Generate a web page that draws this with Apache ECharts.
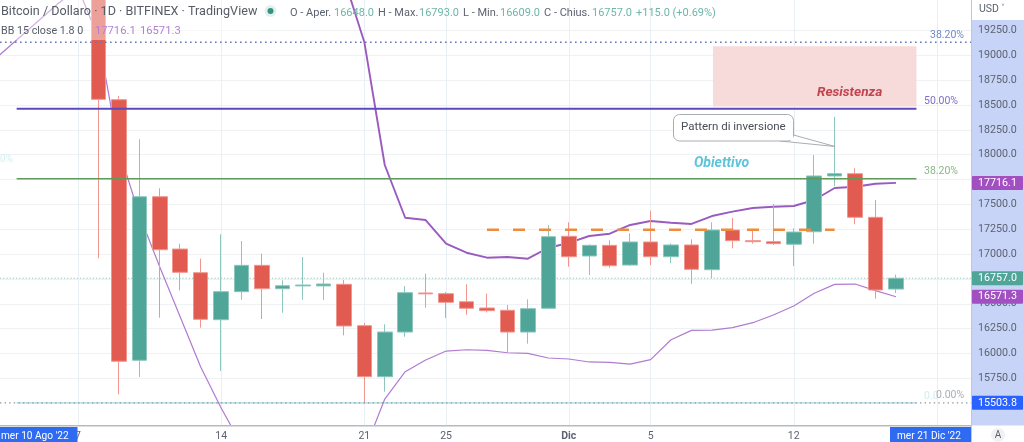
<!DOCTYPE html>
<html><head><meta charset="utf-8">
<style>html,body{margin:0;padding:0;background:#fff}#c{width:1024px;height:442px}</style>
<script src="https://cdn.jsdelivr.net/npm/echarts@6/dist/echarts.min.js"></script>
</head><body><div id="c"></div>
<script>
// x values are day numbers counted from 31 Oct 2022 (Nov 7 = 7, Dec 1 = 31)
const days  =[8,9,10,11,12,13,14,15,16,17,18,19,20,21,22,23,24,25,26,27,28,29,30,31,32,33,34,35,36,37,38,39,40,41,42,43,44,45,46,47];
const opens =[19900,18553,15932,17577,17051,16813,16340,16622,16887,16652,16680,16680,16696,16280,15767,16216,16609,16602,16521,16458,16435,16216,16455,17179,16981,17088,16890,17122,16974,17092,16843,17242,17135,17125,17099,17225,17786,17809,17370,16648];
const closes=[18557,15922,17577,17044,16817,16344,16622,16887,16652,16682,16689,16699,16277,15767,16216,16612,16600,16515,16455,16431,16216,16451,17175,16974,17088,16883,17122,16974,17092,16847,17242,17135,17125,17105,17222,17786,17809,17370,16639,16757];
const lows  =[16958,15590,15764,16360,16636,16260,15824,16541,16347,16410,16541,16538,16183,15499,15616,16169,16461,16357,16390,16414,16008,16099,16455,16873,16790,16863,16880,16890,16907,16702,16757,17058,17105,17092,16880,17105,17685,17300,16551,16609];
const highs =[20000,18590,18155,17662,17105,16954,17199,17132,17004,16736,16971,16813,16739,16307,16294,16679,16803,16619,16696,16602,16488,16545,17293,17320,17098,17139,17209,17437,17108,17149,17320,17363,17242,17504,17260,17997,18382,17863,17544,16793];

const upperDays=[20,21,22,23,24,25,26,27,28,29,30,31,32,33,34,35,36,37,38,39,40,41,42,43,44,45,46,47];
const upperBand=[19778,19134,17896,17366,17343,17105,17014,16964,16971,16954,17064,17112,17182,17205,17293,17333,17316,17303,17383,17427,17464,17477,17484,17544,17665,17678,17708,17716.1];
const lowerDays=[3,4,5,6,7,8,9,10,11,12,13,14,15,16,21,22,23,24,25,26,27,28,29,30,31,32,33,34,35,36,37,38,39,40,41,42,43,44,45,46,47];
const lowerBand=[18973,19154,19335,19516,19677,19174,18047,17393,16870,16367,15864,15452,15080,null,15019,15542,15817,15935,16025,16038,16032,16008,16002,15955,15945,15915,15911,15894,15938,16139,16233,16235,16260,16310,16387,16478,16606,16696,16699,16632,16571.3];

const fibTop=19131, fib50=18463, fib382=17758, fibBottom=15503.8, lastPrice=16757, target=17245;
const zoneY=[19090,18485], zoneX=[38.05,48];
const xTicks=[7,14,21,25,31,35,42,49];
const xLabels=['7','14','21','25','Dic','5','12','19'];
const yTicks=[15750,16000,16250,16500,16750,17000,17250,17500,17750,18000,18250,18500,18750,19000,19250];
const yHiddenLabels=[17750];
const xMin=3.186,xMax=50.667,yMin=15281,yMax=19556;

const RED='#E15B50',TEAL='#4FA598',FONT='Roboto, "Noto Sans", sans-serif';
const pairs=(xs,ys)=>xs.map((x,i)=>[x,ys[i]]);
const level=(name,x0,x1,v,color,width,type,z)=>({name,type:'line',data:[[x0,v],[x1,v]],showSymbol:false,silent:true,z,
  lineStyle:{color,width,type},animation:false});

const chart=echarts.init(document.getElementById('c'),null,{renderer:'canvas'});
chart.setOption({
  animation:false,
  grid:{left:0,right:53,top:0,bottom:16.5,containLabel:false},
  xAxis:{type:'value',min:xMin,max:xMax,
    axisLine:{show:false},axisTick:{show:false,customValues:xTicks},
    splitLine:{show:true,lineStyle:{color:'#E8F0F3',width:1}},
    axisLabel:{customValues:xTicks,margin:6,color:'#5D6270',fontFamily:FONT,fontSize:10.5,
      formatter:v=>{const s=xLabels[xTicks.indexOf(v)];return s==='Dic'?'{b|Dic}':s;},
      rich:{b:{fontWeight:'bold',color:'#5D6270',fontFamily:FONT,fontSize:10.5}}}},
  yAxis:{type:'value',min:yMin,max:yMax,position:'right',
    axisLine:{show:false},axisTick:{show:false,customValues:yTicks},
    splitLine:{show:true,lineStyle:{color:'#EFF2F5',width:1}},
    axisLabel:{customValues:yTicks,margin:7,color:'#5D6270',fontFamily:FONT,fontSize:10.7,
      formatter:v=>yHiddenLabels.includes(v)?'':v.toFixed(1)}},
  series:[
    {name:'BB lower',type:'line',data:pairs(lowerDays,lowerBand),showSymbol:false,z:2,silent:true,connectNulls:false,
      lineStyle:{color:'#B07BD0',width:1.2}},
    {name:'BB upper',type:'line',data:pairs(upperDays,upperBand),showSymbol:false,z:2,silent:true,
      lineStyle:{color:'#9A5BBE',width:1.9}},
    {name:'zone',type:'line',data:[],z:1,silent:true,
      markArea:{silent:true,itemStyle:{color:'#F7DADA',opacity:1},data:[[{coord:[zoneX[0],zoneY[0]]},{coord:[zoneX[1],zoneY[1]]}]]}},
    {name:'BTCUSD',type:'candlestick',z:3,barWidth:15,
      encode:{x:0,y:[1,2,3,4]},
      data:days.map((d,i)=>[d,opens[i],closes[i],lows[i],highs[i]]),
      itemStyle:{color:TEAL,color0:RED,borderColor:'#8CC6BC',borderColor0:'#F0968E',borderWidth:1,borderColorDoji:'#8CC6BC'}},
    level('fib top',xMin,xMax,fibTop,'#6678B8',1.6,[1.6,3.4],4),
    level('fib 50',4,48,fib50,'#5B4BBE',2,'solid',4),
    level('fib 38',4,48,fib382,'#5F9A5B',1.6,'solid',4),
    level('fib low bg',4,48,fibBottom,'#BFE3EA',1.6,'solid',1),
    level('fib low',xMin,xMax,fibBottom,'#8F969E',1.4,[1.4,3.2],4),
    level('last',xMin,xMax,lastPrice,'#8CC7BC',1,[1.2,2],1),
    level('target',27,44,target,'#EE8B3C',2.4,[12,14],4)
  ]
});

const Y=v=>chart.convertToPixel({yAxisIndex:0},v);
const txt=(x,y,text,fill,size,extra)=>({type:'text',z:60,silent:true,style:Object.assign({x,y,text,fill,fontSize:size,fontFamily:FONT,textVerticalAlign:'middle'},extra||{})});
const tag=(v,text,fill)=>[
  {type:'rect',z:50,silent:true,shape:{x:972,y:Y(v)-7,width:51,height:14,r:1},style:{fill}},
  txt(997.5,Y(v),text,'#fff',10.7,{textAlign:'center'})];
chart.setOption({graphic:{elements:[
  {type:'rect',z:-1,silent:true,shape:{x:971,y:20,width:53,height:405.5},style:{fill:'#C7D4F7'}},
  {type:'rect',z:40,silent:true,shape:{x:0,y:0,width:260,height:40},style:{fill:'rgba(255,255,255,0.42)'}},
  {type:'line',z:45,silent:true,shape:{x1:971.5,y1:0,x2:971.5,y2:442},style:{stroke:'#C4C6CA',lineWidth:1}},
  {type:'line',z:45,silent:true,shape:{x1:0,y1:425.7,x2:971,y2:425.7},style:{stroke:'#B8BABD',lineWidth:1.4}},
  {type:'rect',z:50,silent:true,shape:{x:0,y:427,width:77.5,height:15},style:{fill:'#2F6BF2'}},
  txt(1,436.5,"mer 10 Ago '22",'#fff',10.1),
  {type:'rect',z:50,silent:true,shape:{x:890,y:427,width:81,height:15},style:{fill:'#2F6BF2'}},
  txt(897,436.5,"mer 21 Dic '22",'#fff',10.1),
  txt(1,12,'Bitcoin / Dollaro · 1D · BITFINEX · TradingView','#565B66',12.6),
  txt(1,31,'BB 15 close 1.8 0','#565B66',10.7),
  txt(95,31,'17716.1','#B57FD2',11.2),txt(140,31,'16571.3','#B57FD2',11.2),
  {type:'circle',z:60,silent:true,shape:{cx:270.5,cy:11,r:6},style:{fill:'#E3F1EE'}},
  {type:'circle',z:61,silent:true,shape:{cx:270.5,cy:11,r:3},style:{fill:'#36917F'}},
  txt(290,13,'O - Aper.','#5D6270',11),txt(334,13,'16648.0','#6EB6A8',11),
  txt(378,13,'H - Max.','#5D6270',11),txt(419,13,'16793.0','#6EB6A8',11),
  txt(463,13,'L - Min.','#5D6270',11),txt(500,13,'16609.0','#6EB6A8',11),
  txt(544,13,'C - Chius.','#5D6270',11),txt(592,13,'16757.0','#6EB6A8',11),
  txt(636,13,'+115.0 (+0.69%)','#6EB6A8',11),
  txt(979,9,'USD ˅','#5D6270',10.5),
  txt(930,35,'38.20%','#7288C6',10.5),
  txt(924,101.5,'50.00%','#7D6FC8',10.5),
  txt(924,171,'38.20%','#8CB588',10.5),
  txt(924,396,'0.0','#D5EBF0',10.5),
  txt(936,395,'0.00%','#A9AEB4',10.5),
  txt(0,159,'0%','#D5EFF2',10),
  txt(817,92.5,'Resistenza','#C2444F',13.6,{fontWeight:'bold',fontStyle:'italic'}),
  txt(694,163,'Obiettivo','#5CC4DA',14,{fontWeight:'bold',fontStyle:'italic'}),
  {type:'polygon',z:55,silent:true,shape:{points:[[790,134],[835,146.5],[780,141]]},style:{fill:'#fff',stroke:'#A9ACB0',lineWidth:1}},
  {type:'rect',z:56,silent:true,shape:{x:673.5,y:114.5,width:120,height:26.5,r:6},style:{fill:'#fff',stroke:'#A9ACB0',lineWidth:1}},
  {type:'rect',z:57,silent:true,shape:{x:778,y:130,width:15,height:10},style:{fill:'#fff'}},
  txt(681,127.5,'Pattern di inversione','#4A4E57',11.5),
  ...tag(17716.1,'17716.1','#A24FC2'),
  ...tag(16757,'16757.0','#4FA598'),
  ...tag(16571.3,'16571.3','#A24FC2'),
  ...tag(15503.8,'15503.8','#2962FF'),
  {type:'circle',z:60,silent:true,shape:{cx:998,cy:435,r:7},style:{fill:'#F0F1F3'}},
  txt(998,435.5,'A','#5D6270',10,{textAlign:'center'})
]}});
</script></body></html>
